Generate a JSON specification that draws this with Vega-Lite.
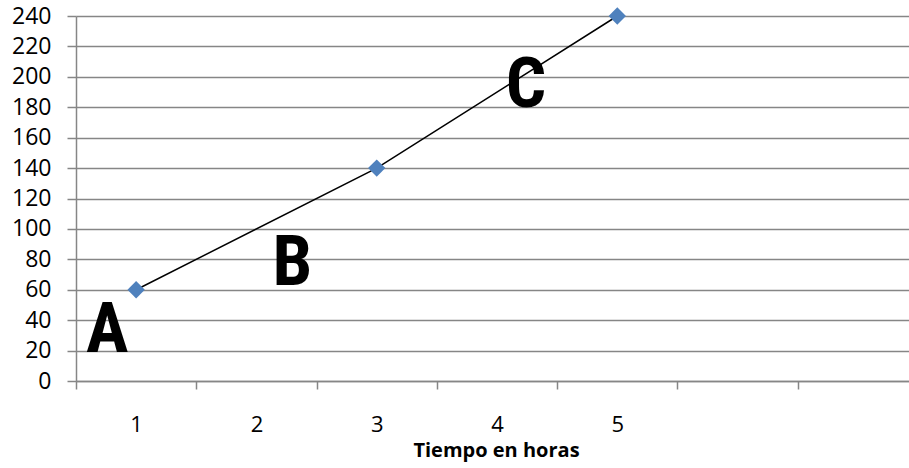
{
  "$schema": "https://vega.github.io/schema/vega-lite/v6.json",
  "width": 833,
  "height": 365,
  "autosize": {"type": "none"},
  "padding": {"left": 76, "top": 16, "right": 0, "bottom": 87},
  "background": "white",
  "config": {"view": {"stroke": null}, "font": "Open Sans"},
  "datasets": {
    "pts": [{"hora": 1, "valor": 60}, {"hora": 3, "valor": 140}, {"hora": 5, "valor": 240}],
    "letras": [{"hora": 0.76, "valor": 33, "letra": "A"}, {"hora": 2.3, "valor": 77, "letra": "B"}, {"hora": 4.24, "valor": 194, "letra": "C"}]
  },
  "encoding": {
    "x": {
      "field": "hora", "type": "quantitative",
      "scale": {"domain": [0.5, 7.425], "nice": false, "zero": false},
      "axis": {
        "values": [0.5, 1, 1.5, 2, 2.5, 3, 3.5, 4, 4.5, 5, 5.5, 6, 6.5],
        "labelExpr": "(datum.value % 1 === 0 && datum.value <= 5) ? datum.value : ''",
        "labelOverlap": false,
        "grid": false,
        "domainColor": "#868686", "domainWidth": 1.5,
        "tickColor": {"condition": {"test": "datum.value % 1 === 0", "value": "transparent"}, "value": "#868686"},
        "tickWidth": 1.5, "tickSize": 8,
        "labelFontSize": 22, "labelColor": "#000", "labelPadding": 42, "labelBaseline": "alphabetic", "labelFont": "Open Sans",
        "title": "Tiempo en horas", "titleFontSize": 20, "titleFontWeight": "bold", "titleColor": "#000",
        "titleFont": "Open Sans", "titleX": 420, "titleY": 75, "titleAlign": "center", "titleBaseline": "alphabetic"
      }
    },
    "y": {
      "field": "valor", "type": "quantitative",
      "scale": {"domain": [0, 240], "nice": false},
      "axis": {
        "values": [0, 20, 40, 60, 80, 100, 120, 140, 160, 180, 200, 220, 240],
        "labelOverlap": false,
        "grid": true, "gridColor": "#868686", "gridWidth": 1.5,
        "domainColor": "#868686", "domainWidth": 1.5,
        "tickColor": "#868686", "tickWidth": 1.5, "tickSize": 9,
        "labelFontSize": 23, "labelColor": "#000", "labelPadding": 16, "labelFont": "Open Sans",
        "title": null
      }
    }
  },
  "layer": [
    {
      "data": {"name": "pts"},
      "mark": {"type": "line", "color": "black", "strokeWidth": 1.5}
    },
    {
      "data": {"name": "pts"},
      "mark": {"type": "point", "shape": "diamond", "filled": true, "color": "#4F81BD", "size": 300, "opacity": 1}
    },
    {
      "data": {"name": "letras"},
      "mark": {"type": "text", "font": "Liberation Sans Narrow, Roboto Condensed, Open Sans Condensed, Noto Sans Condensed, DejaVu Sans Condensed, DejaVu Sans", "fontWeight": "bold", "fontSize": 71, "baseline": "middle", "align": "center", "color": "black"},
      "encoding": {
        "text": {"field": "letra"}
      }
    }
  ]
}
